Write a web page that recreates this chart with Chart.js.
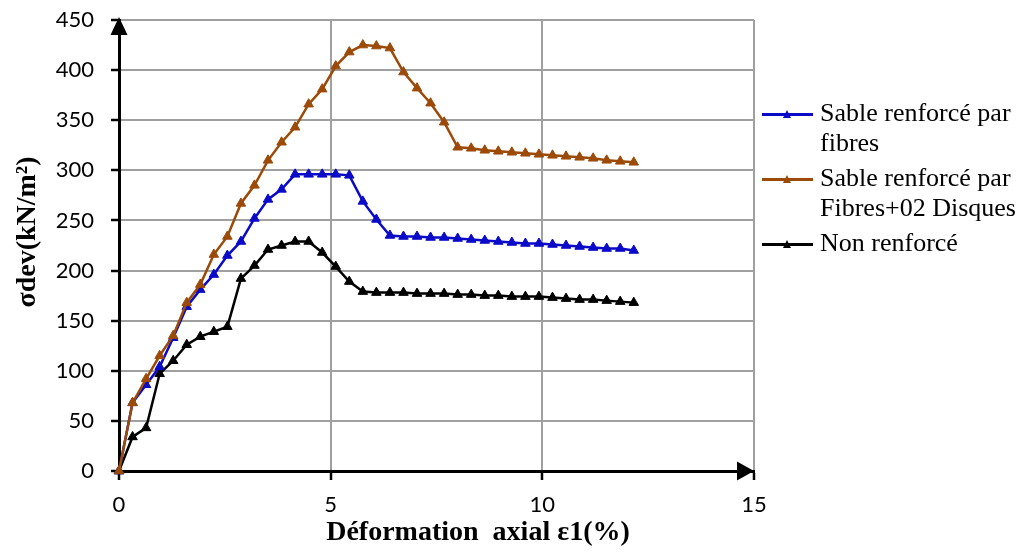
<!DOCTYPE html>
<html>
<head>
<meta charset="utf-8">
<script src="https://cdn.jsdelivr.net/npm/chart.js"></script>
<style>
  body { margin: 0; background: #fff; }
  #wrap { position: relative; width: 1029px; height: 557px; }
  #legend {
    position: absolute; left: 762px; top: 98px;
    font-family: "Liberation Serif", "Times New Roman", serif;
    font-size: 26px; line-height: 30px; color: #000;
  }
  .item { position: relative; padding-left: 58px; width: 205px; margin-bottom: 5px; }
  .key { position: absolute; left: 0; top: 15px; width: 51px; height: 2.5px; }
  .key i {
    position: absolute; left: 21px; top: -3px; width: 0; height: 0;
    border-left: 4.5px solid transparent; border-right: 4.5px solid transparent;
    border-bottom: 8px solid;
  }
</style>
</head>
<body>
<div id="wrap">
  <canvas id="chart" width="1029" height="557"></canvas>
  <div id="legend"></div>
</div>

<script>
  // axial strain (%) shared by the three tests
  const strain = [0, 0.32, 0.64, 0.96, 1.28, 1.60, 1.92, 2.24, 2.56, 2.88, 3.20, 3.52, 3.84,
    4.16, 4.48, 4.80, 5.12, 5.44, 5.76, 6.08, 6.40, 6.72, 7.04, 7.36, 7.68, 8.00, 8.32, 8.64,
    8.96, 9.28, 9.60, 9.92, 10.24, 10.56, 10.88, 11.20, 11.52, 11.84, 12.16];

  // deviator stress (kN/m2)
  const sigmaFibres = [0, 68, 86, 104, 133, 164, 181, 196, 215, 229, 252, 271, 281,
    296, 296, 296, 296, 295, 269, 251, 235, 234, 234, 233, 233, 232, 231, 230,
    229, 228, 227, 227, 226, 225, 224, 223, 222, 222, 220];
  const sigmaFibresDisques = [0, 68, 92, 115, 135, 168, 186, 216, 234, 267, 285, 310, 328,
    343, 366, 381, 404, 418, 425, 424, 422, 398, 382, 367, 348, 323, 322, 320,
    319, 318, 317, 316, 315, 314, 313, 312, 310, 309, 308];
  const sigmaNonRenforce = [0, 34, 43, 97, 110, 126, 134, 139, 144, 192, 205, 221, 225,
    229, 229, 218, 204, 189, 179, 178, 178, 178, 177, 177, 177, 176, 176, 175,
    175, 174, 174, 174, 173, 172, 171, 171, 170, 169, 168];

  const seriesNames = ['Sable renforcé par fibres', 'Sable renforcé par Fibres+02 Disques', 'Non renforcé'];
  const seriesColors = ['#0a0ac8', '#9c4a08', '#000000'];

  const xTicks = [0, 5, 10, 15];
  const yTicks = [0, 50, 100, 150, 200, 250, 300, 350, 400, 450];

  const toPoints = values => strain.map((x, i) => ({ x: x, y: values[i] }));

  // arrows on the axes and the two axis titles
  const axisDecor = {
    id: 'axisDecor',
    afterDraw(chart) {
      const { ctx, chartArea: a, scales: { x, y } } = chart;
      const x0 = x.getPixelForValue(0);
      const y0 = y.getPixelForValue(0);
      ctx.save();
      ctx.fillStyle = '#000';
      ctx.beginPath();
      ctx.moveTo(x0, a.top - 3);
      ctx.lineTo(x0 - 8.5, a.top + 15);
      ctx.lineTo(x0 + 8.5, a.top + 15);
      ctx.closePath();
      ctx.fill();
      ctx.beginPath();
      ctx.moveTo(a.right, y0);
      ctx.lineTo(a.right - 17, y0 - 9.5);
      ctx.lineTo(a.right - 17, y0 + 9.5);
      ctx.closePath();
      ctx.fill();

      ctx.font = 'bold 28px "Liberation Serif"';
      ctx.textAlign = 'center';
      ctx.textBaseline = 'alphabetic';
      ctx.fillText('Déformation  axial ε1(%)', 478, 540);
      ctx.translate(35, 232);
      ctx.rotate(-Math.PI / 2);
      ctx.fillText('σdev(kN/m²)', 0, 0);
      ctx.restore();
    }
  };

  const series = [sigmaFibres, sigmaFibresDisques, sigmaNonRenforce];
  const drawOrder = [1, 0, 2];

  const datasets = series.map((values, i) => ({
    label: seriesNames[i],
    data: toPoints(values),
    borderColor: seriesColors[i],
    backgroundColor: seriesColors[i],
    borderWidth: 2.5,
    pointStyle: 'triangle',
    pointRadius: 5.5,
    pointBorderWidth: 1,
    tension: 0,
    clip: false,
    order: drawOrder[i]
  }));

  const tickFont = { family: 'Lato', size: 22 };

  new Chart(document.getElementById('chart'), {
    type: 'line',
    data: { datasets: datasets },
    options: {
      responsive: false,
      animation: false,
      devicePixelRatio: 1,
      layout: { autoPadding: false, padding: { left: 0, top: 20, right: 275, bottom: 0 } },
      plugins: { legend: { display: false }, tooltip: { enabled: false } },
      scales: {
        x: {
          type: 'linear',
          min: xTicks[0],
          max: xTicks[xTicks.length - 1],
          ticks: { stepSize: xTicks[1] - xTicks[0], padding: 12, color: '#000', font: tickFont },
          grid: { color: '#a0a0a0', lineWidth: 2, tickColor: '#000', tickLength: 9, tickWidth: 2.5 },
          border: { color: '#000', width: 3 },
          afterFit: s => { s.height = 86; }
        },
        y: {
          min: yTicks[0],
          max: yTicks[yTicks.length - 1],
          ticks: { stepSize: yTicks[1] - yTicks[0], padding: 17, color: '#000', font: tickFont },
          grid: { color: '#a0a0a0', lineWidth: 2, tickColor: '#000', tickLength: 8, tickWidth: 2.5 },
          border: { color: '#000', width: 3 },
          // fixed axis width; the label padding must not push the plot down
          afterFit: s => { s.width = 119; s.paddingTop = 10; s.paddingBottom = 10; }
        }
      }
    },
    plugins: [axisDecor]
  });

  // legend beside the plot
  const legend = document.getElementById('legend');
  seriesNames.forEach((name, i) => {
    const item = document.createElement('div');
    item.className = 'item';
    item.innerHTML = '<span class="key" style="background:' + seriesColors[i] + ';color:' + seriesColors[i] +
      '"><i></i></span>' + name;
    legend.appendChild(item);
  });
</script>
</body>
</html>
